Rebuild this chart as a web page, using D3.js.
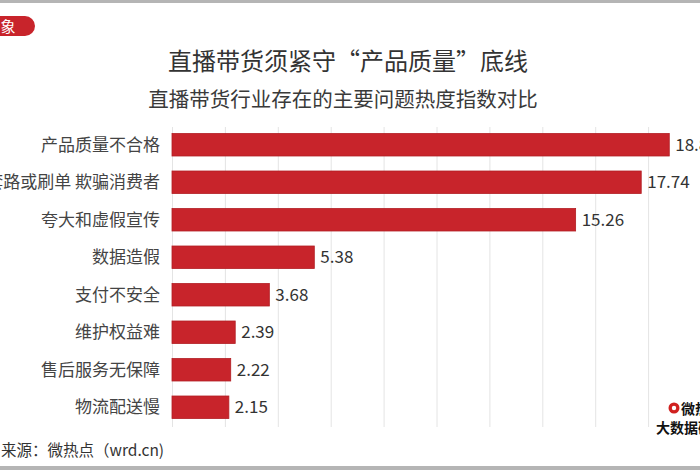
<!DOCTYPE html>
<html><head><meta charset="utf-8">
<script src="https://cdn.jsdelivr.net/npm/d3@7/dist/d3.min.js"></script>
<style>body{margin:0;background:#fff}svg{display:block}text{font-family:"Noto Sans CJK SC","Noto Sans",sans-serif}</style>
</head><body><svg id="c" width="700" height="470"></svg>
<script>
const categories = ["产品质量不合格","套路或刷单 欺骗消费者","夸大和虚假宣传","数据造假","支付不安全","维护权益难","售后服务无保障","物流配送慢"];
const values = [18.80,17.74,15.26,5.38,3.68,2.39,2.22,2.15];
const ticks = [0,2,4,6,8,10,12,14,16,18,20];
const title = "直播带货须紧守“产品质量”底线";
const subtitle = "直播带货行业存在的主要问题热度指数对比";
const source = "来源：微热点（wrd.cn)";

const svg = d3.select("#c");
const x = d3.scaleLinear().domain([0,20]).range([172,701]);
const y = d3.scaleBand().domain(categories).range([126,426]).paddingInner(0.4).paddingOuter(0.2);

svg.append("rect").attr("x",0).attr("y",0).attr("width",700).attr("height",3).attr("fill","#b5b5b5");
svg.append("rect").attr("x",0).attr("y",466).attr("width",700).attr("height",4).attr("fill","#b5b5b5");

svg.append("rect").attr("x",-12).attr("y",16).attr("width",47).attr("height",20).attr("rx",10).attr("fill","#c8242b");
svg.append("text").attr("x",8).attr("y",31.5).attr("text-anchor","middle").attr("font-size",15).attr("fill","#fff").text("象");

svg.append("text").attr("x",348).attr("y",70).attr("text-anchor","middle").attr("font-size",24).attr("fill","#333").text(title);
svg.append("text").attr("x",343).attr("y",107).attr("text-anchor","middle").attr("font-size",20.5).attr("fill","#3a3a3a").text(subtitle);

const g = svg.append("g");
g.append("g").attr("transform","translate(0,127)")
  .call(d3.axisBottom(x).tickValues(ticks).tickSize(300).tickFormat(""))
  .call(s=>s.select(".domain").remove())
  .call(s=>s.selectAll(".tick line").attr("stroke","#e4e4e4").attr("stroke-width",1));

g.selectAll(".bar").data(values).join("rect")
  .attr("x",x(0)).attr("y",(d,i)=>y(categories[i]))
  .attr("width",d=>x(d)-x(0)).attr("height",y.bandwidth())
  .attr("fill","#c8242b").attr("stroke","#b21e24").attr("stroke-width",0.8);

g.selectAll(".val").data(values).join("text")
  .attr("x",d=>x(d)+6).attr("y",(d,i)=>y(categories[i])+y.bandwidth()/2+6)
  .attr("font-size",17).attr("fill","#333").text(d=>d.toFixed(2));

g.selectAll(".cat").data(categories).join("text")
  .attr("x",160).attr("y",d=>y(d)+y.bandwidth()/2+6)
  .attr("text-anchor","end").attr("font-size",17).attr("fill","#444").text(d=>d);

svg.append("text").attr("x",1).attr("y",456).attr("font-size",15.5).attr("fill","#333").text(source);

const w = svg.append("g");
w.append("circle").attr("cx",674).attr("cy",408).attr("r",5.5).attr("fill","#d0201f");
w.append("circle").attr("cx",674).attr("cy",408).attr("r",2.2).attr("fill","#fff");
w.append("text").attr("x",681).attr("y",414).attr("font-size",14).attr("font-weight","bold").attr("fill","#111").text("微热点");
w.append("text").attr("x",656).attr("y",433).attr("font-size",14).attr("font-weight","bold").attr("fill","#111").text("大数据研究院");
</script></body></html>
